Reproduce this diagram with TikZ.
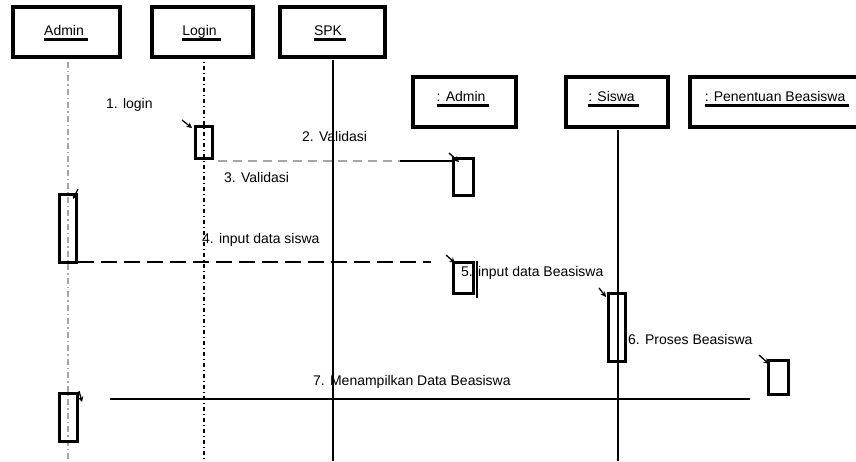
\documentclass[tikz,border=0pt]{standalone}
\usepackage{fontspec}
\setmainfont{Liberation Sans}
\usetikzlibrary{arrows.meta}
\newcommand\ulx[1]{\setbox0\hbox{#1}\rlap{\copy0}\raisebox{-5.5pt}{\rule{\wd0}{2.2pt}}}
\begin{document}
\begin{tikzpicture}[x=1pt,y=-1pt,
  objbox/.style={draw, line width=3.2pt, minimum height=50pt, inner sep=0pt},
  objlabel/.style={anchor=base, inner sep=0pt, font=\fontsize{14}{16}\selectfont},
  actbox/.style={draw, line width=3pt, inner sep=0pt},
  msglabel/.style={anchor=base west, inner sep=0pt, font=\fontsize{14}{16}\selectfont},
  lifeadmin/.style={draw=gray!70, line width=1.5pt, dash pattern=on 6pt off 3pt on 1.5pt off 3pt},
  lifelogin/.style={draw=black, line width=1.8pt, dash pattern=on 1.5pt off 3pt on 4pt off 2.5pt},
  lifesolid/.style={draw=black, line width=1.7pt},
  tipmark/.style={line width=1.3pt, -{Stealth[length=5.5pt,width=5.5pt]}}
]
\useasboundingbox (0,0) rectangle (856,461);
\fill[white] (0,0) rectangle (856,461);

% object boxes
\node[objbox, minimum width=107pt] (admin) at (66.5,32) {};
\node[objbox, minimum width=101pt] (login) at (202.5,32) {};
\node[objbox, minimum width=105pt] (spk) at (332.5,32) {};
\node[objbox, minimum width=103pt] (adm2) at (464.5,102) {};
\node[objbox, minimum width=102pt] (siswa) at (617,102) {};
\node[objbox, minimum width=176pt] (pen) at (778,102) {};

\node[objlabel] (tadmin) at (66,35) {\ulx{Admin\ }};
\node[objlabel] (tlogin) at (201.5,35) {\ulx{Login\ }};
\node[objlabel] (tspk) at (330,35) {\ulx{SPK\ }};
\node[objlabel] (tadm2) at (463,101) {\ulx{: Admin\ }};
\node[objlabel] (tsiswa) at (613.5,101) {\ulx{: Siswa\ }};
\node[objlabel] (tpen) at (777,101) {\ulx{: Penentuan Beasiswa\ }};

% lifeline ends
\coordinate (adminEnd) at (68,461);
\coordinate (loginEnd) at (204,461);
\coordinate (spkEnd) at (333,461);
\coordinate (siswaEnd) at (618,461);

\draw[lifeadmin] (admin.south -| adminEnd) ++(0,3) -- (adminEnd);
\draw[lifelogin] (login.south -| loginEnd) ++(0,3) -- (loginEnd);
\draw[lifesolid] (spk.south -| spkEnd) ++(0,1) -- (spkEnd);
\draw[lifesolid] (siswa.south -| siswaEnd) ++(0,1) -- (siswaEnd);

% activation boxes
\node[actbox, minimum width=17pt, minimum height=32pt] (actL) at (203.5,142) {};
\node[actbox, minimum width=20pt, minimum height=37pt] (actA2) at (463,176.5) {};
\node[actbox, minimum width=17pt, minimum height=68pt] (actA1) at (67.5,228) {};
\node[actbox, minimum width=20pt, minimum height=31pt] (act5) at (463,277.5) {};
\node[actbox, minimum width=17pt, minimum height=68pt] (actS) at (616.5,327) {};
\node[actbox, minimum width=20pt, minimum height=34pt] (actP) at (778,377) {};
\node[actbox, minimum width=18pt, minimum height=48pt] (actA3) at (68,417) {};

\draw[line width=1.5pt] (act5.north east) ++(2.5,0) -- ++(0,37);

% messages
\coordinate (m2s) at (218,161);
\coordinate (m2m) at (400,161);
\draw[draw=gray!70, line width=1.8pt, dash pattern=on 9pt off 6pt] (m2s) -- (m2m);
\draw[line width=1.6pt] (m2m) -- (m2m -| actA2.west);

\coordinate (m4s) at (78,262);
\coordinate (m4e) at (431,262);
\draw[line width=2pt, dash pattern=on 16pt off 7pt] (m4s) -- (m4e);

\coordinate (m7s) at (110,399);
\coordinate (m7e) at (750,399);
\draw[line width=1.8pt] (m7s) -- (m7e);

% arrow marks
\draw[tipmark] (182,120) -- (192,128);
\draw[tipmark] (449,153) -- (459,162);
\draw[tipmark] (78,189) -- (73,199);
\draw[tipmark] (446,255) -- (455,263);
\draw[tipmark] (599,288) -- (606,297);
\draw[tipmark] (759,355) -- (769,364);
\draw[tipmark] (79,391) -- (82,402);

% message labels
\node[msglabel] (l1) at (106,108) {1. login};
\node[msglabel] (l2) at (302,141) {2. Validasi};
\node[msglabel] (l3) at (224,182) {3. Validasi};
\node[msglabel] (l4) at (202,243) {4. input data siswa};
\node[msglabel] (l5) at (461,276) {5. input data Beasiswa};
\node[msglabel] (l6) at (628,344) {6. Proses Beasiswa};
\node[msglabel] (l7) at (313,385) {7. Menampilkan Data Beasiswa};
\end{tikzpicture}
\end{document}
